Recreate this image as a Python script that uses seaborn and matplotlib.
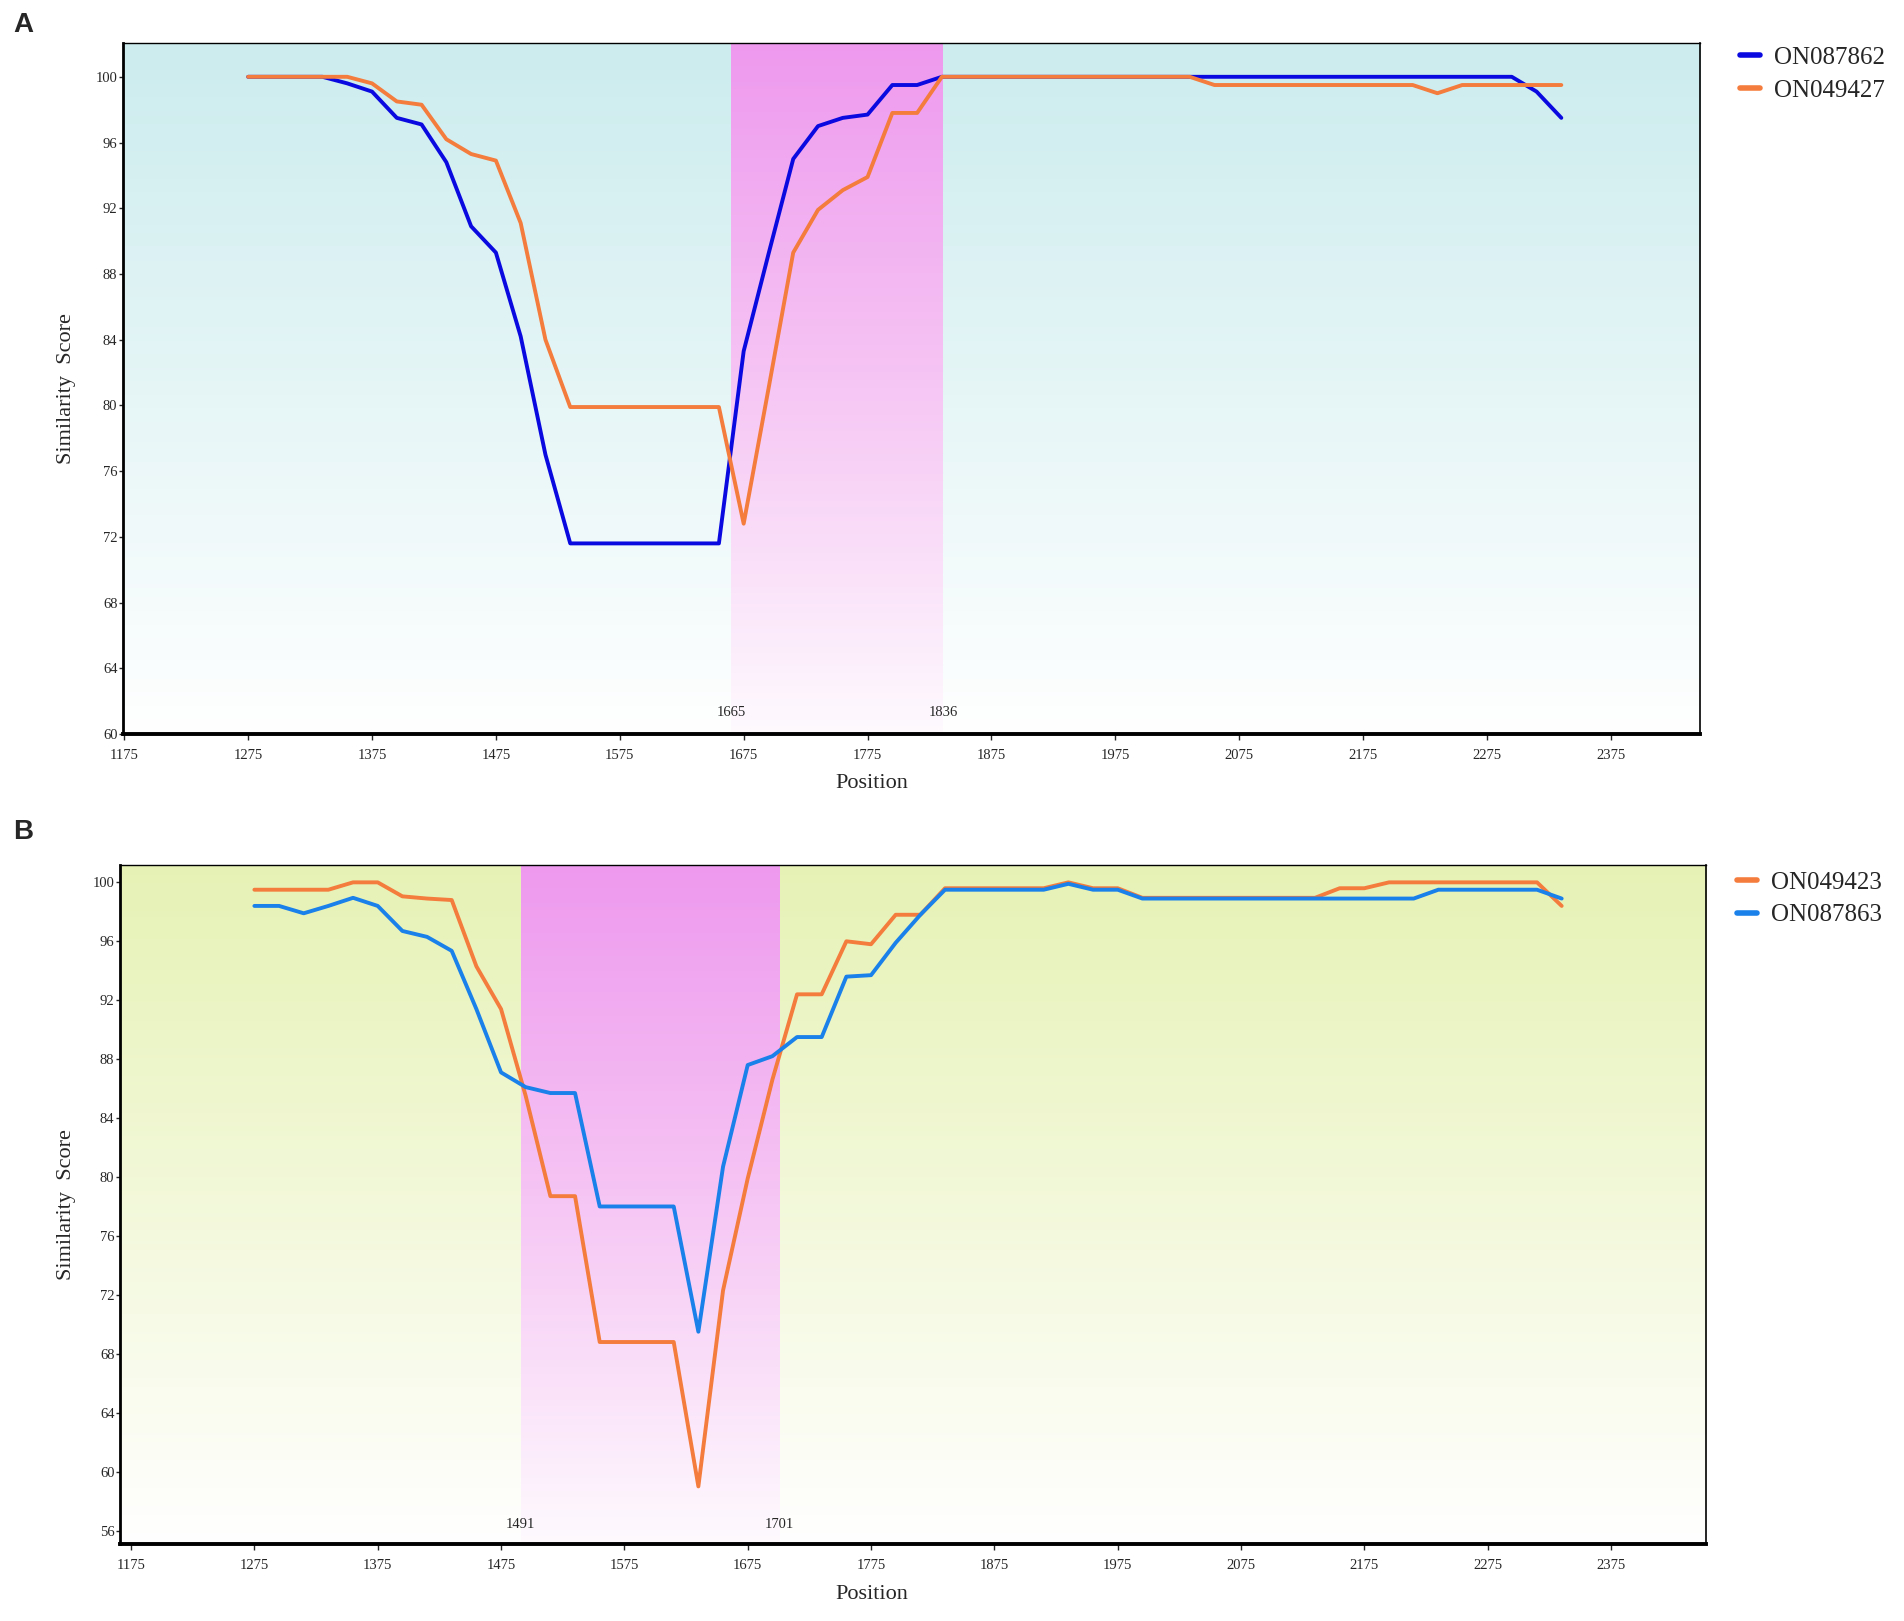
import numpy as np
import pandas as pd
import seaborn as sns
import matplotlib.pyplot as plt
from matplotlib.colors import LinearSegmentedColormap

sns.set_style("white")
plt.rcParams['font.family'] = ['Liberation Serif', 'DejaVu Serif']

# ---------------------------------------------------------------
# data, positions every 20 bp
# ---------------------------------------------------------------
position = list(range(1275, 2336, 20))

# panel A
a_on087862 = [100, 100, 100, 100, 99.6, 99.1, 97.5, 97.1, 94.8, 90.9,
              89.3, 84.2, 77.0, 71.6, 71.6, 71.6, 71.6, 71.6, 71.6, 71.6,
              83.3, 89.2, 95.0, 97.0, 97.5, 97.7, 99.5, 99.5, 100, 100,
              100, 100, 100, 100, 100, 100, 100, 100, 100, 100,
              100, 100, 100, 100, 100, 100, 100, 100, 100, 100,
              100, 100, 99.1, 97.5]
a_on049427 = [100, 100, 100, 100, 100, 99.6, 98.5, 98.3, 96.2, 95.3,
              94.9, 91.1, 84.0, 79.9, 79.9, 79.9, 79.9, 79.9, 79.9, 79.9,
              72.8, 81.0, 89.3, 91.9, 93.1, 93.9, 97.8, 97.8, 100, 100,
              100, 100, 100, 100, 100, 100, 100, 100, 100, 99.5,
              99.5, 99.5, 99.5, 99.5, 99.5, 99.5, 99.5, 99.5, 99.0, 99.5,
              99.5, 99.5, 99.5, 99.5]
a_region = [1665, 1836]

# panel B
b_on049423 = [99.5, 99.5, 99.5, 99.5, 100, 100, 99.05, 98.9, 98.8, 94.3,
              91.4, 85.5, 78.7, 78.7, 68.8, 68.8, 68.8, 68.8, 59.0, 72.3,
              79.9, 86.6, 92.4, 92.4, 96.0, 95.8, 97.8, 97.8, 99.6, 99.6,
              99.6, 99.6, 99.6, 100, 99.6, 99.6, 98.95, 98.95, 98.95, 98.95,
              98.95, 98.95, 98.95, 98.95, 99.6, 99.6, 100, 100, 100, 100,
              100, 100, 100, 98.4]
b_on087863 = [98.4, 98.4, 97.9, 98.4, 98.95, 98.4, 96.7, 96.3, 95.35, 91.4,
              87.1, 86.1, 85.7, 85.7, 78.0, 78.0, 78.0, 78.0, 69.5, 80.7,
              87.6, 88.2, 89.5, 89.5, 93.6, 93.7, 95.9, 97.8, 99.5, 99.5,
              99.5, 99.5, 99.5, 99.9, 99.5, 99.5, 98.9, 98.9, 98.9, 98.9,
              98.9, 98.9, 98.9, 98.9, 98.9, 98.9, 98.9, 98.9, 99.5, 99.5,
              99.5, 99.5, 99.5, 98.9]
b_region = [1491, 1701]

x_ticks = list(range(1175, 2376, 100))
a_yticks = list(range(60, 101, 4))
b_yticks = list(range(56, 101, 4))

df_a = pd.DataFrame({"Position": position * 2,
                     "Score": a_on087862 + a_on049427,
                     "Seq": ["ON087862"] * len(position) + ["ON049427"] * len(position)})
df_b = pd.DataFrame({"Position": position * 2,
                     "Score": b_on049423 + b_on087863,
                     "Seq": ["ON049423"] * len(position) + ["ON087863"] * len(position)})

# ---------------------------------------------------------------
fig = plt.figure(figsize=(19.04, 16.21), dpi=100)
ax_a = fig.add_axes([0.0646, 0.5472, 0.8283, 0.4263])
ax_b = fig.add_axes([0.0630, 0.0475, 0.8330, 0.4189])


def draw_panel(ax, df, palette, order, xlim, ylim, yticks, region, bg_top, legend_xy, xlab_xy, ylab_x):
    # background gradient (top colour -> white)
    bg = LinearSegmentedColormap.from_list("bg", ["white", bg_top])
    grad = np.linspace(0, 1, 256).reshape(-1, 1)
    ax.imshow(grad, cmap=bg, aspect="auto", origin="lower",
              extent=[0, 1, 0, 1], transform=ax.transAxes, zorder=0)
    # recombination region
    pink = LinearSegmentedColormap.from_list("pk", ["#fefafe", "#f6c6f4", "#ee99ee"])
    ax.imshow(grad, cmap=pink, aspect="auto", origin="lower",
              extent=[region[0], region[1], ylim[0], ylim[1]], zorder=1)

    sns.lineplot(data=df, x="Position", y="Score", hue="Seq", hue_order=order,
                 palette=palette, linewidth=2.8, ax=ax, zorder=3, legend=True)

    ax.set_xlim(*xlim)
    ax.set_ylim(*ylim)
    ax.set_xticks(x_ticks)
    ax.set_yticks(yticks)
    ax.tick_params(axis="x", labelsize=10.5, length=4, width=1, direction="out", pad=7, bottom=True)
    ax.tick_params(axis="y", labelsize=10.5, length=3, width=1, direction="out", pad=1, left=True)

    for r in region:
        ax.text(r, ylim[0] + (1.3 if ylim[0] == 60 else 1.35), str(r), ha="center", va="center",
                fontsize=10.5, zorder=4)

    ax.set_xlabel("Position", fontsize=16)
    ax.set_ylabel("Similarity  Score", fontsize=16)
    ax.xaxis.set_label_coords(*xlab_xy)
    ax.yaxis.set_label_coords(ylab_x, 0.5)

    ax.spines["bottom"].set_linewidth(2.8)
    ax.spines["left"].set_linewidth(2.0)
    ax.spines["top"].set_linewidth(1.0)
    ax.spines["right"].set_linewidth(1.2)
    for s in ax.spines.values():
        s.set_color("black")
        s.set_zorder(5)

    leg = ax.legend(loc="upper left", bbox_to_anchor=legend_xy, bbox_transform=fig.transFigure,
                    frameon=False, fontsize=18, borderpad=0, labelspacing=0.4,
                    handlelength=0.8, handletextpad=0.55, borderaxespad=0)
    for line in leg.get_lines():
        line.set_linewidth(4)


draw_panel(ax_a, df_a, {"ON087862": "#0a0ae0", "ON049427": "#f47c3c"}, ["ON087862", "ON049427"],
           (1174, 2447), (60, 102.06), a_yticks, a_region, "#ccecee",
           (0.9140, 0.9712), (0.475, -0.058), -0.030)
draw_panel(ax_b, df_b, {"ON049423": "#f47c3c", "ON087863": "#1a80ea"}, ["ON049423", "ON087863"],
           (1166, 2452), (55.09, 101.18), b_yticks, b_region, "#e6f2b5",
           (0.9125, 0.4625), (0.474, -0.061), -0.028)

fig.text(23 / 1904, 1 - 25 / 1621, "A", fontsize=20, fontweight="bold",
         family=["Liberation Sans", "DejaVu Sans"], ha="center", va="center")
fig.text(23 / 1904, 1 - 832 / 1621, "B", fontsize=20, fontweight="bold",
         family=["Liberation Sans", "DejaVu Sans"], ha="center", va="center")

fig.savefig("out.png", dpi=100)
